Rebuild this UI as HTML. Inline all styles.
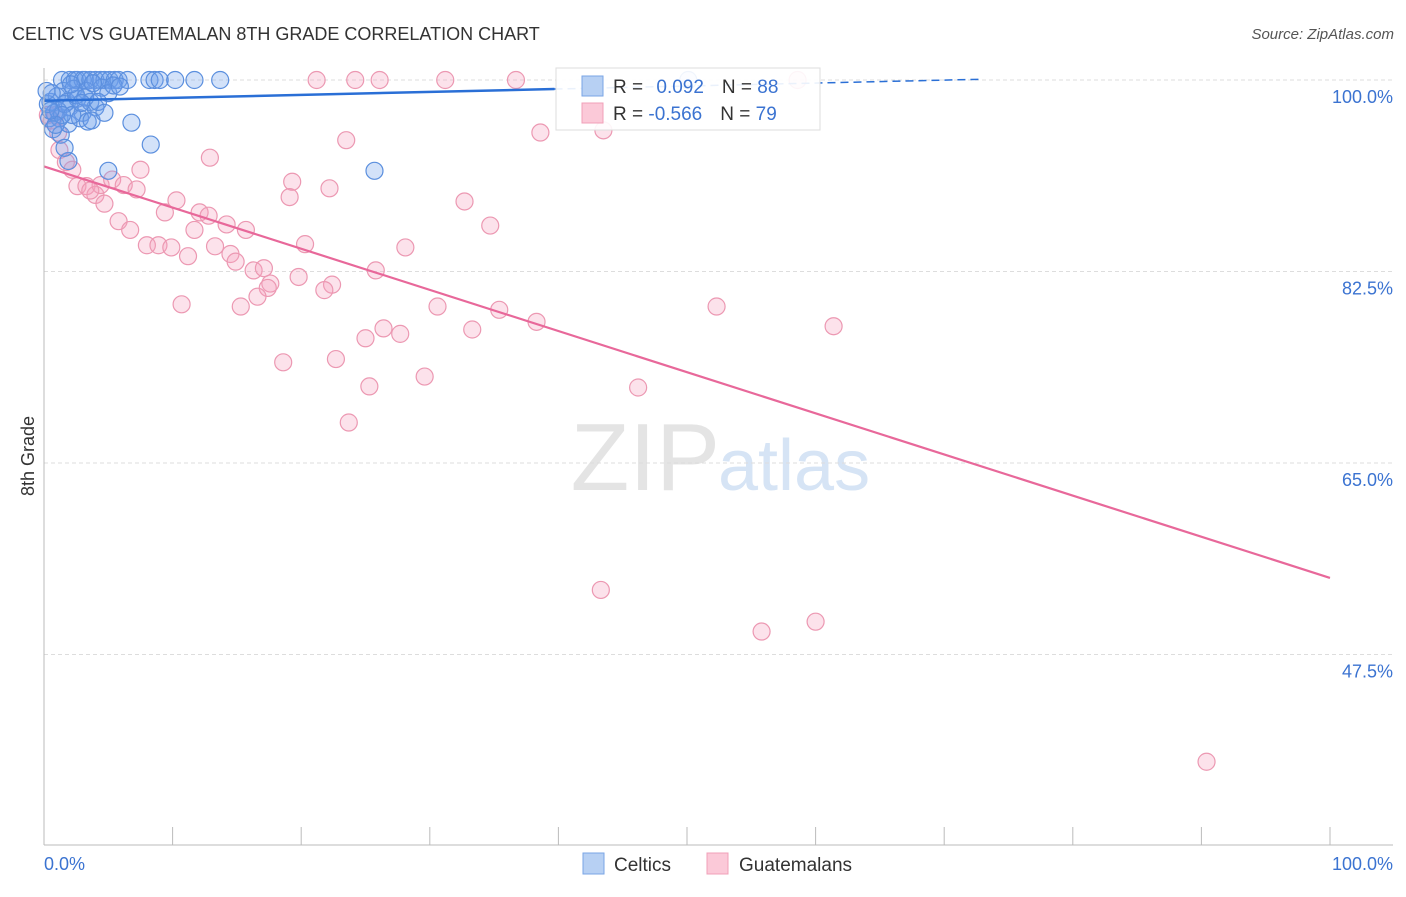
<!DOCTYPE html>
<html><head><meta charset="utf-8"><style>
body{margin:0;background:#fff;font-family:"Liberation Sans",sans-serif}
svg text{font-family:"Liberation Sans",sans-serif}
</style></head><body>
<svg id="c" width="1406" height="892" viewBox="0 0 1406 892" xmlns="http://www.w3.org/2000/svg">
<text x="12" y="40" font-size="18" fill="#333">CELTIC VS GUATEMALAN 8TH GRADE CORRELATION CHART</text>
<text x="1394" y="39" font-size="15" fill="#555" font-style="italic" text-anchor="end">Source: ZipAtlas.com</text>
<text x="720" y="490" font-size="96" fill="#e4e4e4" text-anchor="end" font-family="Liberation Serif">ZIP</text>
<text x="718" y="490" font-size="72" fill="#d6e4f5">atlas</text>
<text x="34" y="456" font-size="18" fill="#333" text-anchor="middle" transform="rotate(-90 34 456)">8th Grade</text>
<g id="grid"></g><g id="pts"></g><g id="lines"></g>
<line x1="44" y1="68" x2="44" y2="845" stroke="#bbb"/>
<line x1="44" y1="845" x2="1393" y2="845" stroke="#bbb"/>
<text x="44" y="870" font-size="18" fill="#3b73d1">0.0%</text>
<text x="1393" y="870" font-size="18" fill="#3b73d1" text-anchor="end">100.0%</text>
<g>
<rect x="556" y="68" width="264" height="62" fill="#fff" fill-opacity="0.9" stroke="#ddd"/>
<rect x="582" y="76" width="21" height="20" fill="#b7d0f3" stroke="#7aa5e6"/>
<rect x="582" y="103" width="21" height="20" fill="#fbc9d8" stroke="#f0a0b8"/>
<text x="613" y="93" font-size="19" fill="#333">R = <tspan fill="#3b73d1" dx="8">0.092</tspan><tspan dx="18">N = </tspan><tspan fill="#3b73d1">88</tspan></text>
<text x="613" y="120" font-size="19" fill="#333">R = <tspan fill="#3b73d1">-0.566</tspan><tspan dx="18">N = </tspan><tspan fill="#3b73d1">79</tspan></text>
</g>
<g>
<rect x="583" y="853" width="21" height="21" fill="#b7d0f3" stroke="#7aa5e6"/>
<text x="614" y="871" font-size="19" fill="#333">Celtics</text>
<rect x="707" y="853" width="21" height="21" fill="#fbc9d8" stroke="#f0a0b8"/>
<text x="739" y="871" font-size="19" fill="#333">Guatemalans</text>
</g>
</svg>
<script>
const yTicks=[100,82.5,65,47.5];
const yTickLabels=["100.0%","82.5%","65.0%","47.5%"];
const xTickVals=[0,10,20,30,40,50,60,70,80,90,100];
const blueX=[1.4,2.0,2.4,2.6,3.0,3.2,3.6,4.0,4.4,4.7,5.1,5.5,5.8,6.5,8.2,8.6,9.0,10.2,11.7,13.7,50.1,
0.5,0.8,1.0,1.2,1.5,1.8,2.0,2.3,2.6,3.0,3.3,3.6,4.0,4.5,5.0,5.4,0.4,0.7,1.3,1.9,2.8,3.4,3.7,0.3,0.6,1.1,1.6,2.2,2.5,3.2,4.2,6.8,8.3,25.7,5.0,1.9,1.6,0.2,2.1,3.8,5.9,1.4,0.9,0.5,2.9,4.7];
const blueY=[100,100,100,100,100,100,100,100,100,100,100,100,100,100,100,100,100,100,100,100,100,
98,97,98.5,96.5,99,98,97.5,99.2,98.3,97,99,98,97.5,99.3,98.8,99.5,96.5,95.5,95,96,96.5,96.2,96.3,97.8,98.8,97.2,97.8,96.8,98.6,98.4,98,96.1,94.1,91.7,91.7,92.6,93.8,99,99.6,99.7,99.4,96.8,95.9,97.2,97.9,97];
const pinkX=[21.2,24.2,26.1,31.2,36.7,58.6,38.6,43.5,23.5,12.9,7.5,19.3,19.1,22.2,32.7,34.7,10.3,9.4,12.1,12.8,14.2,15.7,11.7,20.3,28.1,8.0,8.9,9.9,11.2,13.3,14.5,14.9,16.3,17.1,19.8,17.6,17.4,16.6,22.4,21.8,25.8,10.7,15.3,30.6,35.4,38.3,52.3,61.4,26.4,33.3,27.7,25.0,18.6,22.7,29.6,25.3,46.2,23.7,43.3,55.8,60.0,90.4,1.2,2.2,2.6,3.3,4.0,4.4,4.7,5.3,5.8,6.2,6.7,7.2,0.6,1.1,1.7,3.6,0.3,0.9];
const pinkY=[100,100,100,100,100,100,95.2,95.4,94.5,92.9,91.8,90.7,89.3,90.1,88.9,86.7,89.0,87.9,87.9,87.6,86.8,86.3,86.3,85.0,84.7,84.9,84.9,84.7,83.9,84.8,84.1,83.4,82.6,82.8,82.0,81.4,81.0,80.2,81.3,80.8,82.6,79.5,79.3,79.3,79.0,77.9,79.3,77.5,77.3,77.2,76.8,76.4,74.2,74.5,72.9,72.0,71.9,68.7,53.4,49.6,50.5,37.7,93.6,91.8,90.3,90.3,89.5,90.4,88.7,90.9,87.1,90.4,86.3,90.0,96.3,95.2,92.5,89.9,96.8,96.8];
const blueTrend=[98.1,100.8];
const pinkTrend=[92.1,54.5];
const X=v=>44+v*12.86, Y=v=>80+(100-v)*10.943;
const NS="http://www.w3.org/2000/svg";
function mk(t,a,p){const e=document.createElementNS(NS,t);for(const k in a)e.setAttribute(k,a[k]);p.appendChild(e);return e;}
const g=document.getElementById('grid');
yTicks.forEach((v,i)=>{
 const l=mk('line',{x1:44,x2:1393,y1:Y(v),y2:Y(v),stroke:'#ddd','stroke-dasharray':'4,3'},g);
 
 
 const t=mk('text',{x:1393,y:Y(v)+23,'font-size':18,fill:'#3b73d1','text-anchor':'end'},g);
 t.textContent=yTickLabels[i];
 
 
});
xTickVals.forEach(v=>{
 const l=mk('line',{x1:X(v),x2:X(v),y1:827,y2:845,stroke:'#bbb'},g);
 
 
});
const p=document.getElementById('pts');
pinkX.forEach((x,i)=>{
 const c=mk('circle',{cx:X(x),cy:Y(pinkY[i]),r:8.5,fill:'rgba(244,160,188,0.3)',stroke:'#ec98b2','stroke-width':1.2},p);
 
 
});
blueX.forEach((x,i)=>{
 const c=mk('circle',{cx:X(x),cy:Y(blueY[i]),r:8.5,fill:'rgba(110,160,235,0.3)',stroke:'#5b8fde','stroke-width':1.2},p);
 
 
});
const L=document.getElementById('lines');
const bY=x=>blueTrend[0]+(blueTrend[1]-blueTrend[0])*x/100;
let bl=mk('line',{x1:X(0),y1:Y(bY(0)),x2:X(39.7),y2:Y(bY(39.7)),stroke:'#2a6fd6','stroke-width':2.5},L);


let bd=mk('line',{x1:X(39.7),y1:Y(bY(39.7)),x2:X(72.8),y2:Y(bY(72.8)),stroke:'#2a6fd6','stroke-width':1.5,'stroke-dasharray':'8,5'},L);


let pl=mk('line',{x1:X(0),y1:Y(pinkTrend[0]),x2:X(100),y2:Y(pinkTrend[1]),stroke:'#e8689a','stroke-width':2.2},L);


</script>
</body></html>
